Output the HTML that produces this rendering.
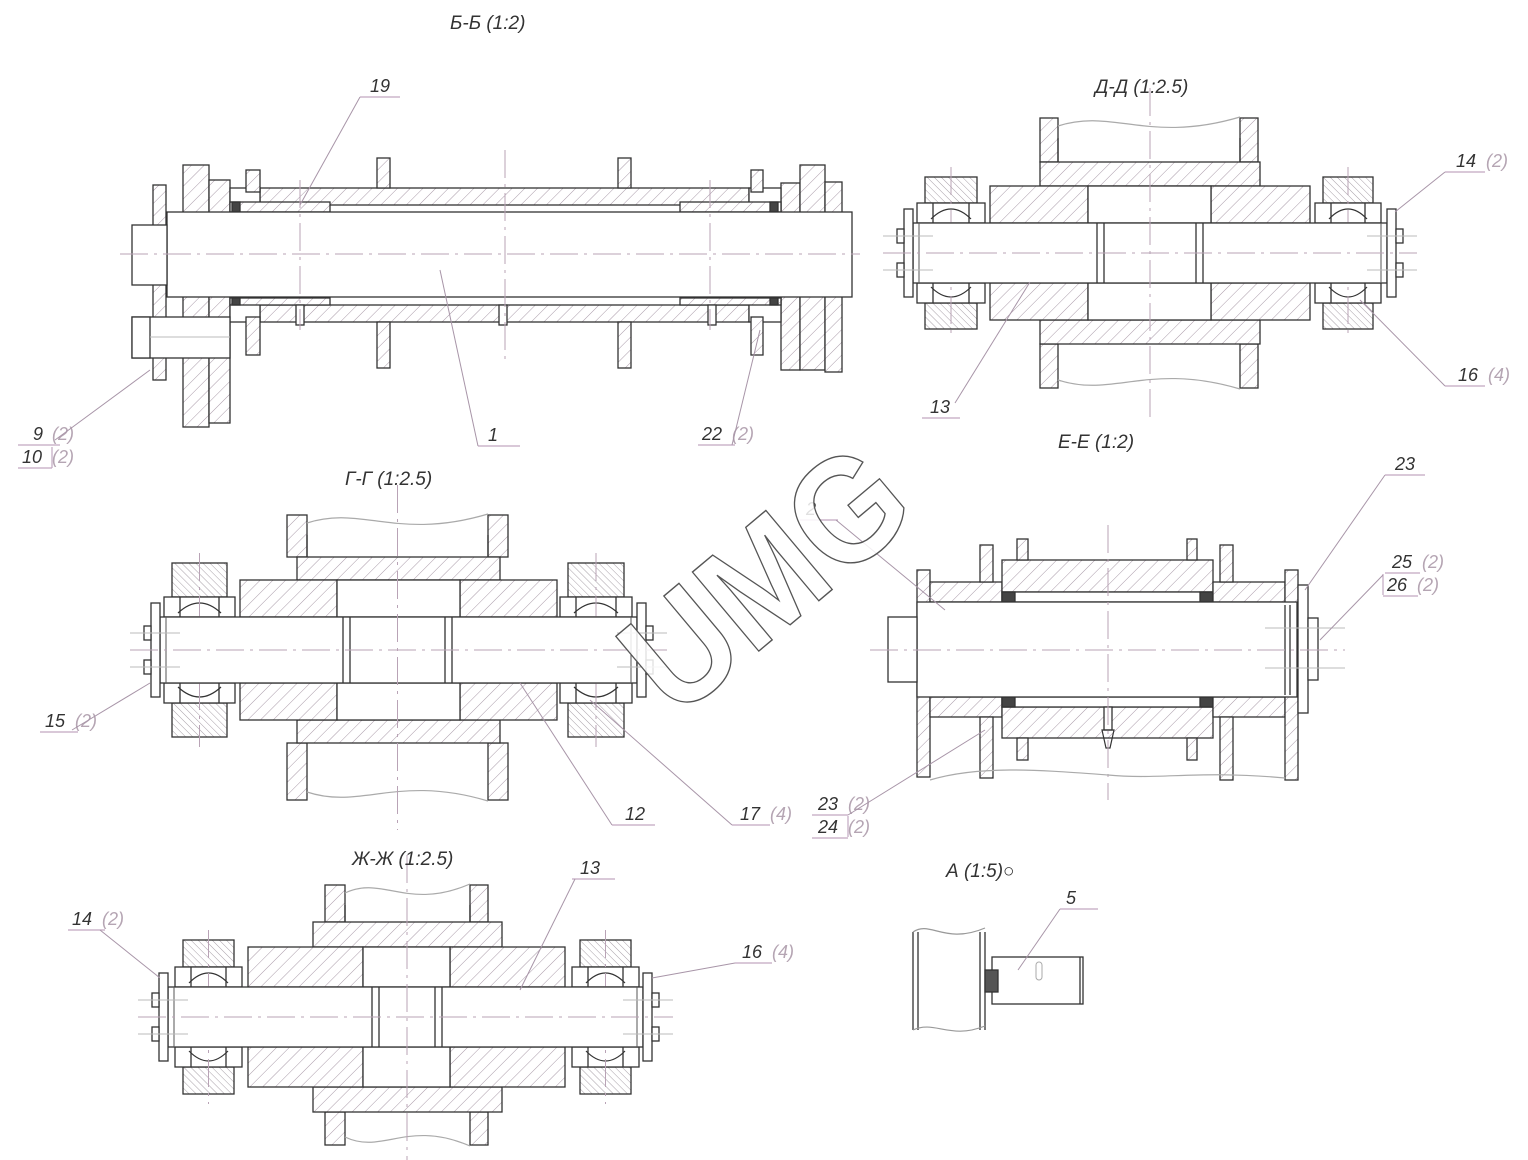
<!DOCTYPE html>
<html><head><meta charset="utf-8"><style>
html,body{margin:0;padding:0;background:#fff}
svg{display:block}
text{font-family:"Liberation Sans",sans-serif;font-style:italic}
</style></head><body>
<svg id="s" xmlns="http://www.w3.org/2000/svg" width="1528" height="1160" viewBox="0 0 1528 1160">
<defs>
<pattern id="h1" patternUnits="userSpaceOnUse" width="9" height="9" patternTransform="rotate(45)"><rect width="9" height="9" fill="#fff"/><line x1="0" y1="0" x2="0" y2="9" stroke="#a99aa8" stroke-width="1"/></pattern>
<pattern id="h2" patternUnits="userSpaceOnUse" width="5" height="5" patternTransform="rotate(-45)"><rect width="5" height="5" fill="#fff"/><line x1="0" y1="0" x2="0" y2="5" stroke="#a8a0a8" stroke-width="1"/></pattern>
</defs>
<g id="g" stroke="#333" stroke-width="1.3" fill="none"></g>
</svg>
<script>
var G=document.getElementById('g'),h='';
function R(x1,y1,x2,y2,f){h+='<rect x="'+x1+'" y="'+y1+'" width="'+(x2-x1)+'" height="'+(y2-y1)+'" fill="'+(f||'#fff')+'"/>';}
function L(x1,y1,x2,y2,c,w,d){h+='<line x1="'+x1+'" y1="'+y1+'" x2="'+x2+'" y2="'+y2+'" stroke="'+(c||'#333')+'" stroke-width="'+(w||1.3)+'"'+(d?' stroke-dasharray="'+d+'"':'')+'/>';}
function CL(x1,y1,x2,y2){L(x1,y1,x2,y2,'#b9a3b6',1,'28,6,3,6');}
function P(d,c,w){h+='<path d="'+d+'" stroke="'+(c||'#999')+'" stroke-width="'+(w||1)+'" fill="none"/>';}
function T(x,y,s,sz,c){h+='<text x="'+x+'" y="'+y+'" font-size="'+(sz||18)+'" fill="'+(c||'#333')+'" stroke="none">'+s+'</text>';}
function LAB(x,y,n,q,ul){T(x,y,n,18,'#333');if(q)T(x+n.length*11+8,y,q,18,'#b5a5b3');L(ul[0],y+5,ul[1],y+5,'#c2a8c0',1.2);}
function LD(x1,y1,x2,y2){L(x1,y1,x2,y2,'#a895a8',1);}
function wave(x1,x2,y,a){var m=(x1+x2)/2;P('M'+x1+' '+y+' C'+(x1+(x2-x1)*0.3)+' '+(y-a)+' '+(m)+' '+(y+a)+' '+(x2)+' '+(y-a/2),'#aaa',1.2);}

function roller(o){var cy=o.cy,sh=o.sh;
 o.pl.forEach(function(p){R(p[0],cy-o.pt,p[1],cy-o.rh,'url(#h1)');R(p[0],cy+o.rh,p[1],cy+o.pb,'url(#h1)');});
 wave(o.pl[0][1],o.pl[1][0],cy-o.pt+8,18);wave(o.pl[0][1],o.pl[1][0],cy+o.pb-8,-18);
 L(o.pl[0][1],cy-o.pt+20,o.pl[0][1],cy-o.rh);L(o.pl[1][0],cy-o.pt+20,o.pl[1][0],cy-o.rh);
 R(o.ring[0],cy-o.rh,o.ring[1],cy-o.hh,'url(#h1)');R(o.ring[0],cy+o.hh,o.ring[1],cy+o.rh,'url(#h1)');
 [o.hL,o.hR].forEach(function(p){R(p[0],cy-o.hh,p[1],cy-sh,'url(#h1)');R(p[0],cy+sh,p[1],cy+o.hh,'url(#h1)');});
 R(o.hL[1],cy-o.hh,o.hR[0],cy-sh);R(o.hL[1],cy+sh,o.hR[0],cy+o.hh);
 [o.wL,o.wR].forEach(function(p){R(p[0],cy-o.wh,p[1],cy-sh-20,'url(#h2)');R(p[0],cy+sh+20,p[1],cy+o.wh,'url(#h2)');
  R(p[0]-8,cy-sh-20,p[1]+8,cy-sh);R(p[0]-8,cy+sh,p[1]+8,cy+sh+20);
  P('M'+(p[0]+6)+' '+(cy-sh-4)+' Q'+((p[0]+p[1])/2)+' '+(cy-sh-24)+' '+(p[1]-6)+' '+(cy-sh-4),'#333',1.2);
  P('M'+(p[0]+6)+' '+(cy+sh+4)+' Q'+((p[0]+p[1])/2)+' '+(cy+sh+24)+' '+(p[1]-6)+' '+(cy+sh+4),'#333',1.2);
  L(p[0]+8,cy-sh-20,p[0]+8,cy-sh);L(p[1]-8,cy-sh-20,p[1]-8,cy-sh);L(p[0]+8,cy+sh,p[0]+8,cy+sh+20);L(p[1]-8,cy+sh,p[1]-8,cy+sh+20);
  CL((p[0]+p[1])/2,cy-o.wh-10,(p[0]+p[1])/2,cy+o.wh+10);});
 R(o.x1,cy-sh,o.x2,cy+sh);
 L(o.j[0],cy-sh,o.j[0],cy+sh);L(o.j[0]+7,cy-sh,o.j[0]+7,cy+sh);L(o.j[1],cy-sh,o.j[1],cy+sh);L(o.j[1]-7,cy-sh,o.j[1]-7,cy+sh);
 L(o.x1+6,cy-sh,o.x1+6,cy+sh,'#555',1);L(o.x2-6,cy-sh,o.x2-6,cy+sh,'#555',1);
 R(o.x1-9,cy-sh-14,o.x1,cy+sh+14);R(o.x2,cy-sh-14,o.x2+9,cy+sh+14);
 [-17,17].forEach(function(d){R(o.x1-16,cy+d-7,o.x1-9,cy+d+7);R(o.x2+9,cy+d-7,o.x2+16,cy+d+7);
  L(o.x1-30,cy+d,o.x1+20,cy+d,'#bbb',1);L(o.x2-20,cy+d,o.x2+30,cy+d,'#bbb',1);});
 CL(o.x1-30,cy,o.x2+30,cy);CL((o.j[0]+o.j[1])/2,cy-o.pt-30,(o.j[0]+o.j[1])/2,cy+o.pb+30);
}
roller({cy:253,sh:30,x1:913,x2:1387,wL:[925,977],wR:[1323,1373],wh:76,hL:[990,1088],hR:[1211,1310],hh:67,ring:[1040,1260],rh:91,pl:[[1040,1058],[1240,1258]],pt:135,pb:135,j:[1097,1203]});
roller({cy:650,sh:33,x1:160,x2:637,wL:[172,227],wR:[568,624],wh:87,hL:[240,337],hR:[460,557],hh:70,ring:[297,500],rh:93,pl:[[287,307],[488,508]],pt:135,pb:150,j:[343,452]});
roller({cy:1017,sh:30,x1:168,x2:643,wL:[183,234],wR:[580,631],wh:77,hL:[248,363],hR:[450,565],hh:70,ring:[313,502],rh:95,pl:[[325,345],[470,488]],pt:132,pb:128,j:[372,442]});

// Б-Б
R(183,165,209,427,'url(#h1)');R(209,180,230,423,'url(#h1)');R(153,185,166,380,'url(#h1)');
R(781,183,800,370,'url(#h1)');R(800,165,825,370,'url(#h1)');R(825,182,842,372,'url(#h1)');
R(260,188,749,205,'url(#h1)');R(260,305,749,322,'url(#h1)');
R(230,188,260,212);R(230,298,260,322);R(749,188,781,212);R(749,298,781,322);
R(230,202,330,212,'url(#h1)');R(230,298,330,305,'url(#h1)');R(680,202,781,212,'url(#h1)');R(680,298,781,305,'url(#h1)');
R(232,202,240,212,'#444');R(232,298,240,305,'#444');R(770,202,778,212,'#444');R(770,298,778,305,'#444');
R(377,158,390,188,'url(#h1)');R(618,158,631,188,'url(#h1)');R(377,322,390,368,'url(#h1)');R(618,322,631,368,'url(#h1)');
R(246,170,260,192,'url(#h1)');R(246,317,260,355,'url(#h1)');R(751,170,763,192,'url(#h1)');R(751,317,763,355,'url(#h1)');
R(167,212,852,297);R(132,225,167,285);
R(132,317,230,358);R(132,317,150,358);L(150,337,230,337,'#bbb',1);
R(296,305,304,325);R(499,305,507,325);R(708,305,716,325);
CL(120,254,860,254);CL(505,150,505,360);CL(300,180,300,330);CL(710,180,710,330);
T(450,29,'Б-Б  (1:2)',19);
LAB(370,92,'19','',[360,400]);LD(360,97,300,205);
LAB(33,440,'9','(2)',[18,60]);LAB(22,463,'10','(2)',[18,52]);L(52,447,52,468,'#c2a8c0',1.2);LD(55,440,150,370);
LAB(488,441,'1','',[478,520]);LD(478,446,440,270);
LAB(702,440,'22','(2)',[698,735]);LD(732,445,760,330);

T(1095,93,'Д-Д (1:2.5)',19);
LAB(1456,167,'14','(2)',[1445,1485]);LD(1445,172,1395,212);
LAB(1458,381,'16','(4)',[1445,1485]);LD(1445,386,1360,300);
LAB(930,413,'13','',[922,960]);LD(955,403,1030,282);
T(345,485,'Г-Г  (1:2.5)',19);
LAB(45,727,'15','(2)',[40,78]);LD(72,730,150,683);
LAB(625,820,'12','',[612,655]);LD(612,825,520,683);
LAB(740,820,'17','(4)',[732,770]);LD(732,825,590,700);
T(352,865,'Ж-Ж (1:2.5)',19);
LAB(72,925,'14','(2)',[68,105]);LD(100,930,160,978);
LAB(580,874,'13','',[572,615]);LD(575,879,520,990);
LAB(742,958,'16','(4)',[735,772]);LD(735,963,652,978);

// Е-Е
R(917,570,930,777,'url(#h1)');R(930,582,1002,602,'url(#h1)');R(930,697,1002,717,'url(#h1)');
R(980,545,993,582,'url(#h1)');R(980,717,993,778,'url(#h1)');
R(1002,560,1213,592,'url(#h1)');R(1002,707,1213,738,'url(#h1)');
R(1002,592,1213,602);R(1002,697,1213,707);
R(1002,592,1015,602,'#444');R(1200,592,1213,602,'#444');R(1002,697,1015,707,'#444');R(1200,697,1213,707,'#444');
R(1017,539,1028,560,'url(#h1)');R(1187,539,1197,560,'url(#h1)');R(1017,738,1028,760,'url(#h1)');R(1187,738,1197,760,'url(#h1)');
R(1213,582,1285,602,'url(#h1)');R(1213,697,1285,717,'url(#h1)');
R(1220,545,1233,582,'url(#h1)');R(1220,717,1233,780,'url(#h1)');R(1285,570,1298,780,'url(#h1)');
R(917,602,1297,697);L(1285,605,1285,695);L(1290,605,1290,695);
R(888,617,917,682);R(1298,585,1308,713);R(1308,618,1318,680);
R(1104,707,1112,730);P('M1102 730 L1114 730 L1110 748 L1106 748 Z','#333',1.2);
CL(870,650,1345,650);CL(1108,525,1108,800);L(1265,628,1345,628,'#bbb',1);L(1265,668,1345,668,'#bbb',1);
P('M930 780 C980 765 1040 770 1108 775 C1160 780 1200 770 1285 778','#aaa',1.2);
T(1058,448,'Е-Е  (1:2)',19);
LAB(806,515,'2','',[800,838]);LD(836,520,945,610);
LAB(1395,470,'23','',[1385,1425]);LD(1385,475,1305,590);
LAB(1392,568,'25','(2)',[1385,1420]);LAB(1387,591,'26','(2)',[1383,1418]);L(1383,574,1383,595,'#c2a8c0',1.2);LD(1383,575,1320,640);
LAB(818,810,'23','(2)',[812,848]);LAB(818,833,'24','(2)',[812,848]);L(848,816,848,837,'#c2a8c0',1.2);LD(848,815,985,730);

// A
L(913,932,913,1030);L(918,932,918,1030);L(980,932,980,1030);L(985,932,985,1030);
P('M913 932 C930 920 945 945 985 928','#999',1.2);P('M913 1030 C935 1020 950 1040 985 1026','#999',1.2);
R(992,957,1083,1004);L(1080,957,1080,1004);R(985,970,998,992,'#555');
h+='<rect x="1036" y="962" width="6" height="18" rx="3" fill="none" stroke="#aaa" stroke-width="1"/>';
T(946,877,'А  (1:5)○',19);
LAB(1066,904,'5','',[1060,1098]);LD(1060,909,1018,970);

// watermark
h+='<text x="0" y="0" transform="translate(765,578) rotate(-40)" text-anchor="middle" dominant-baseline="central" font-size="150" font-weight="bold" textLength="320" lengthAdjust="spacingAndGlyphs" fill="#fff" fill-opacity="0.85" stroke="#555" stroke-width="1.4" style="font-style:normal">UMG</text>';
G.innerHTML=h;
</script>
</body></html>
